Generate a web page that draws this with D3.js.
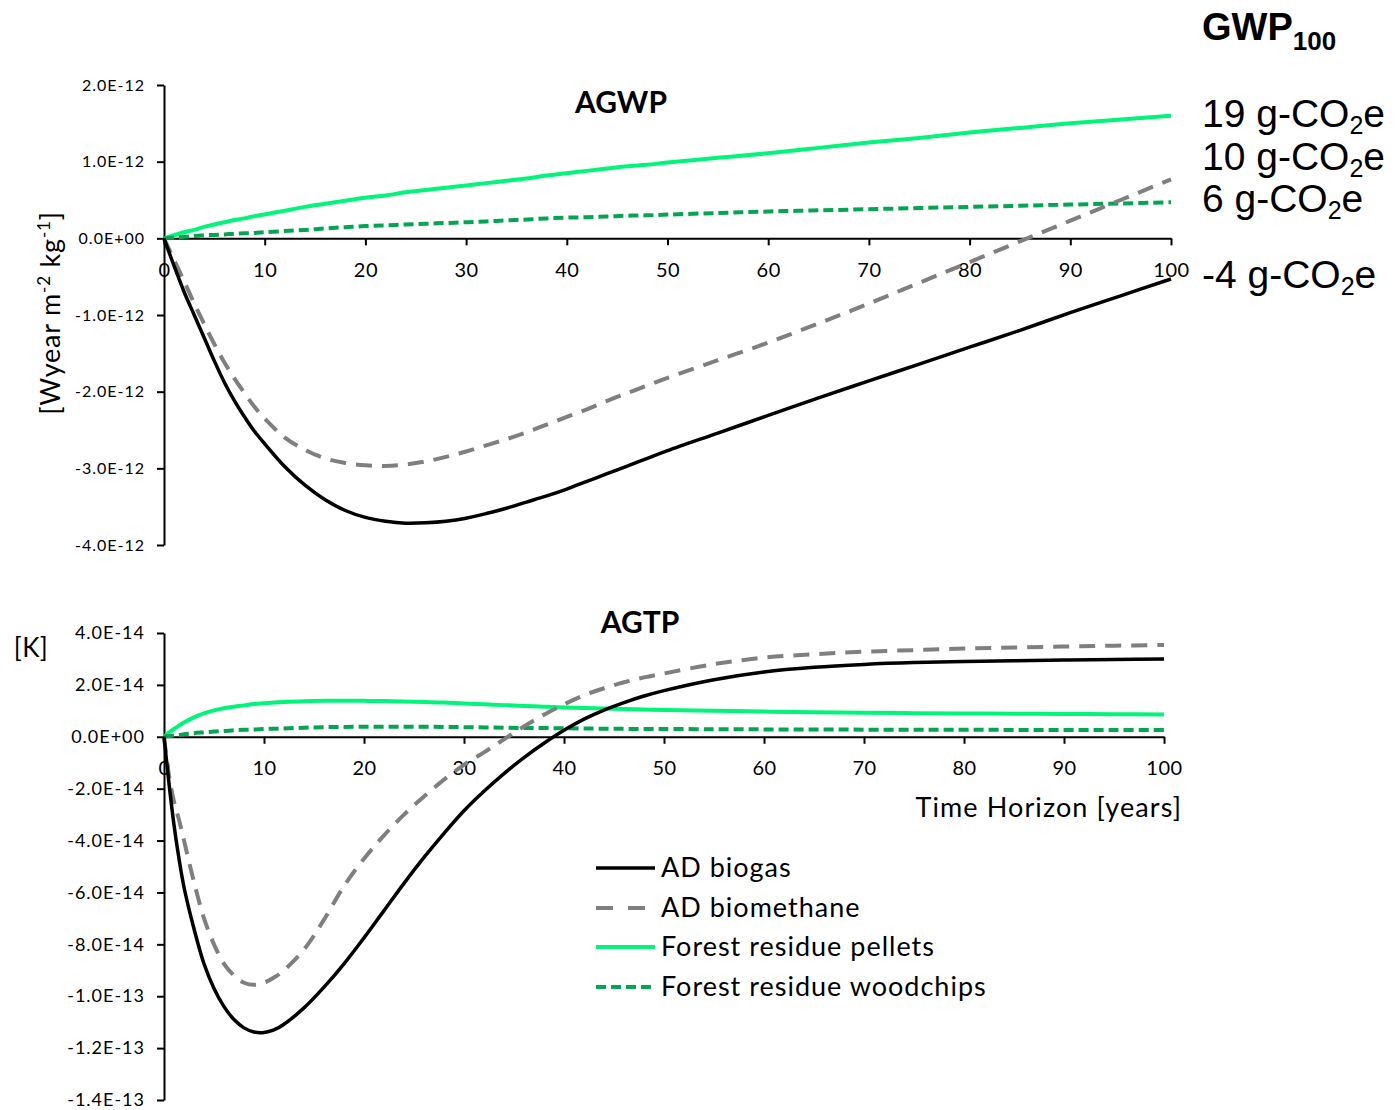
<!DOCTYPE html>
<html>
<head>
<meta charset="utf-8">
<script src="https://cdn.jsdelivr.net/npm/d3@7/dist/d3.min.js"></script>
<style>
  html, body { margin: 0; padding: 0; background: #fff; }
  svg { display: block; }
</style>
</head>
<body>
<svg id="chart" width="1397" height="1110"></svg>
<script>
// ---------------- DATA ----------------
// AGWP panel (values in units of 1E-12 W·year·m^-2·kg^-1)
const agwpYears = [0,1,2,3,4,5,6,7,8,9,10,12,14,16,18,20,22,24,26,28,30,32,34,36,38,40,42,44,46,48,50,55,60,65,70,75,80,85,90,95,100];
const agwpBiogas = [0,-0.36,-0.7,-1.0,-1.3,-1.6,-1.88,-2.12,-2.33,-2.52,-2.68,-2.98,-3.22,-3.41,-3.55,-3.64,-3.69,-3.715,-3.71,-3.69,-3.65,-3.59,-3.52,-3.44,-3.36,-3.27,-3.17,-3.07,-2.97,-2.87,-2.77,-2.54,-2.31,-2.08,-1.86,-1.64,-1.42,-1.2,-0.97,-0.75,-0.53];
const agwpBiomethane = [0,-0.28,-0.56,-0.85,-1.12,-1.38,-1.62,-1.83,-2.02,-2.2,-2.35,-2.6,-2.76,-2.87,-2.93,-2.96,-2.97,-2.95,-2.91,-2.85,-2.78,-2.70,-2.62,-2.53,-2.43,-2.33,-2.23,-2.12,-2.02,-1.92,-1.82,-1.59,-1.36,-1.11,-0.85,-0.58,-0.31,-0.04,0.23,0.5,0.77];
const agwpPellets = [0,0.04,0.08,0.11,0.15,0.18,0.21,0.24,0.26,0.29,0.31,0.36,0.41,0.45,0.49,0.53,0.56,0.6,0.63,0.66,0.69,0.72,0.75,0.78,0.82,0.85,0.88,0.91,0.94,0.96,0.99,1.05,1.11,1.18,1.25,1.31,1.38,1.44,1.5,1.55,1.6];
const agwpWoodchips = [0,0.01,0.02,0.03,0.04,0.045,0.05,0.06,0.065,0.07,0.08,0.095,0.11,0.13,0.145,0.16,0.17,0.18,0.19,0.2,0.21,0.22,0.235,0.245,0.26,0.27,0.275,0.285,0.295,0.3,0.31,0.33,0.35,0.365,0.38,0.395,0.41,0.425,0.44,0.455,0.47];

// AGTP panel (values in units of 1E-14 K)
const agtpYears = [0,0.5,1,1.5,2,3,4,5,6,7,8,9,10,11,12,14,16,18,20,22,24,26,28,30,32,34,36,38,40,42,44,46,48,50,55,60,65,70,75,80,85,90,95,100];
const agtpBiogas = [0,-1.8,-3.4,-4.7,-5.8,-7.4,-8.75,-9.7,-10.4,-10.9,-11.22,-11.38,-11.4,-11.3,-11.08,-10.45,-9.65,-8.75,-7.75,-6.7,-5.65,-4.65,-3.72,-2.85,-2.1,-1.42,-0.8,-0.25,0.25,0.68,1.03,1.32,1.57,1.78,2.2,2.5,2.68,2.79,2.86,2.9,2.93,2.96,2.98,3.0];
const agtpBiomethane = [0,-1.5,-2.5,-3.2,-4.0,-5.6,-7.0,-8.0,-8.75,-9.2,-9.48,-9.56,-9.48,-9.28,-9.0,-8.2,-7.05,-5.75,-4.7,-3.8,-3.0,-2.3,-1.65,-1.08,-0.6,-0.1,0.4,0.85,1.25,1.6,1.87,2.1,2.29,2.44,2.8,3.05,3.18,3.28,3.34,3.4,3.44,3.48,3.51,3.54];
const agtpPellets = [0,0.16,0.3,0.43,0.55,0.75,0.9,1.02,1.1,1.16,1.21,1.26,1.29,1.32,1.34,1.37,1.385,1.39,1.385,1.375,1.36,1.34,1.32,1.28,1.25,1.22,1.19,1.16,1.13,1.11,1.09,1.07,1.05,1.03,1.0,0.97,0.95,0.93,0.91,0.9,0.89,0.88,0.87,0.86];
const agtpWoodchips = [0,0.03,0.05,0.07,0.1,0.14,0.17,0.2,0.22,0.25,0.27,0.28,0.3,0.31,0.32,0.35,0.37,0.38,0.39,0.39,0.39,0.385,0.38,0.37,0.36,0.35,0.34,0.335,0.33,0.32,0.31,0.305,0.3,0.3,0.29,0.285,0.28,0.275,0.27,0.27,0.265,0.265,0.26,0.26];

// Axis ticks
const xTickValues = [0,10,20,30,40,50,60,70,80,90,100];
const agwpTickValues = [2,1,0,-1,-2,-3,-4];
const agwpTickLabels = ["2.0E-12","1.0E-12","0.0E+00","-1.0E-12","-2.0E-12","-3.0E-12","-4.0E-12"];
const agtpTickValues = [4,2,0,-2,-4,-6,-8,-10,-12,-14];
const agtpTickLabels = ["4.0E-14","2.0E-14","0.0E+00","-2.0E-14","-4.0E-14","-6.0E-14","-8.0E-14","-1.0E-13","-1.2E-13","-1.4E-13"];

// Series / legend
const seriesNames = ["AD biogas","AD biomethane","Forest residue pellets","Forest residue woodchips"];
const gwpLabels = [["19"," g-CO","2","e"],["10"," g-CO","2","e"],["6"," g-CO","2","e"],["-4"," g-CO","2","e"]];

// ---------------- STYLES ----------------
const styles = [
  {color:"#000000", width:3.5, dash:null, legendDash:null},
  {color:"#7f7f7f", width:4, dash:"16,10", legendDash:"17,15"},
  {color:"#00f57a", width:4, dash:null, legendDash:null},
  {color:"#00a650", width:4, dash:"10,5", legendDash:"10,5"}
];
const font = "Lato, 'Open Sans', sans-serif";
const arial = "'Liberation Sans', Arial, sans-serif";

const svg = d3.select("#chart");

function panel(cfg) {
  const x = d3.scaleLinear().domain([0,100]).range(cfg.xRange);
  const y = d3.scaleLinear().domain(cfg.yDomain).range(cfg.yRange);

  const gx = svg.append("g")
    .attr("transform", `translate(0,${y(0)})`)
    .call(d3.axisBottom(x).tickValues(xTickValues).tickSize(7).tickSizeOuter(0).tickPadding(17).tickFormat(d3.format("d")));
  gx.select(".domain").attr("stroke","#000").attr("stroke-width",2);
  gx.selectAll(".tick line").attr("stroke","#000").attr("stroke-width",2);
  gx.selectAll(".tick text").attr("font-family",font).attr("font-size",cfg.xFont).attr("fill","#000")
    .attr("letter-spacing",0.5);

  const gy = svg.append("g")
    .attr("transform", `translate(${cfg.xRange[0]},0)`)
    .call(d3.axisLeft(y).tickValues(cfg.tickValues).tickSize(7).tickSizeOuter(0).tickPadding(12)
      .tickFormat((d,i)=>cfg.tickLabels[i]));
  gy.select(".domain").attr("stroke","#000").attr("stroke-width",2);
  gy.selectAll(".tick line").attr("stroke","#000").attr("stroke-width",2);
  gy.selectAll(".tick text").attr("font-family",font).attr("font-size",cfg.yFont).attr("fill","#000")
    .attr("letter-spacing",1);

  const order = [2,3,1,0];
  order.forEach(i => {
    const vals = cfg.series[i];
    const data = cfg.years.map((t,k)=>[t, vals[k]]);
    const line = d3.line().x(d=>x(d[0])).y(d=>y(d[1])).curve(d3.curveCatmullRom.alpha(0.5));
    svg.append("path")
      .attr("d", line(data))
      .attr("fill","none")
      .attr("stroke", styles[i].color)
      .attr("stroke-width", styles[i].width)
      .attr("stroke-dasharray", styles[i].dash)
      .attr("stroke-linejoin","round");
  });
  return {x,y};
}

const panelTop = panel({
  xRange:[164,1171], yDomain:[-4,2], yRange:[545,85],
  years: agwpYears,
  series:[agwpBiogas, agwpBiomethane, agwpPellets, agwpWoodchips],
  tickValues: agwpTickValues, tickLabels: agwpTickLabels,
  xFont: 20, yFont: 16
});
const panelBottom = panel({
  xRange:[164,1164], yDomain:[-14,4], yRange:[1100,633],
  years: agtpYears,
  series:[agtpBiogas, agtpBiomethane, agtpPellets, agtpWoodchips],
  tickValues: agtpTickValues, tickLabels: agtpTickLabels,
  xFont: 20, yFont: 18
});

// Titles
svg.append("text").attr("x",621).attr("y",113).attr("text-anchor","middle")
  .attr("font-family",font).attr("font-weight","bold").attr("font-size",30).text("AGWP");
svg.append("text").attr("x",640).attr("y",633).attr("text-anchor","middle")
  .attr("font-family",font).attr("font-weight","bold").attr("font-size",30).text("AGTP");

// Y axis titles
const yt = svg.append("text")
  .attr("transform","translate(60,313) rotate(-90)")
  .attr("text-anchor","middle")
  .attr("font-family",font).attr("font-size",27).attr("letter-spacing",0.8).attr("fill","#000");
yt.append("tspan").text("[Wyear m");
yt.append("tspan").attr("font-size",17).attr("dy",-10).text("-2");
yt.append("tspan").attr("dy",10).text(" kg");
yt.append("tspan").attr("font-size",17).attr("dy",-10).text("-1");
yt.append("tspan").attr("dy",10).text("]");

svg.append("text").attr("x",31).attr("y",657).attr("text-anchor","middle")
  .attr("font-family",font).attr("font-size",26).attr("letter-spacing",0.5).text("[K]");

// X axis title
svg.append("text").attr("x",1182).attr("y",817).attr("text-anchor","end")
  .attr("font-family",font).attr("font-size",27).attr("letter-spacing",1.1).text("Time Horizon [years]");

// GWP100 heading
const gh = svg.append("text").attr("x",1202).attr("y",40)
  .attr("font-family",arial).attr("font-weight","bold").attr("font-size",38);
gh.append("tspan").text("GWP");
gh.append("tspan").attr("font-size",26).attr("dy",10).text("100");

// GWP100 values
const gwpBaselines = [127,170,212,288];
gwpLabels.forEach((parts,i)=>{
  const t = svg.append("text").attr("x",1202).attr("y",gwpBaselines[i])
    .attr("font-family",arial).attr("font-size",39).attr("fill","#000");
  t.append("tspan").text(parts[0]+parts[1]);
  t.append("tspan").attr("font-size",25).attr("dy",7).text(parts[2]);
  t.append("tspan").attr("dy",-7).text(parts[3]);
});

// Legend
const legendY = [868,908,947,987];
seriesNames.forEach((name,i)=>{
  svg.append("line").attr("x1",596).attr("x2",655).attr("y1",legendY[i]).attr("y2",legendY[i])
    .attr("stroke",styles[i].color).attr("stroke-width",styles[i].width)
    .attr("stroke-dasharray",styles[i].legendDash);
  svg.append("text").attr("x",661).attr("y",legendY[i]+9)
    .attr("font-family",font).attr("font-size",27).attr("letter-spacing",1).attr("fill","#000").text(name);
});
</script>
</body>
</html>
